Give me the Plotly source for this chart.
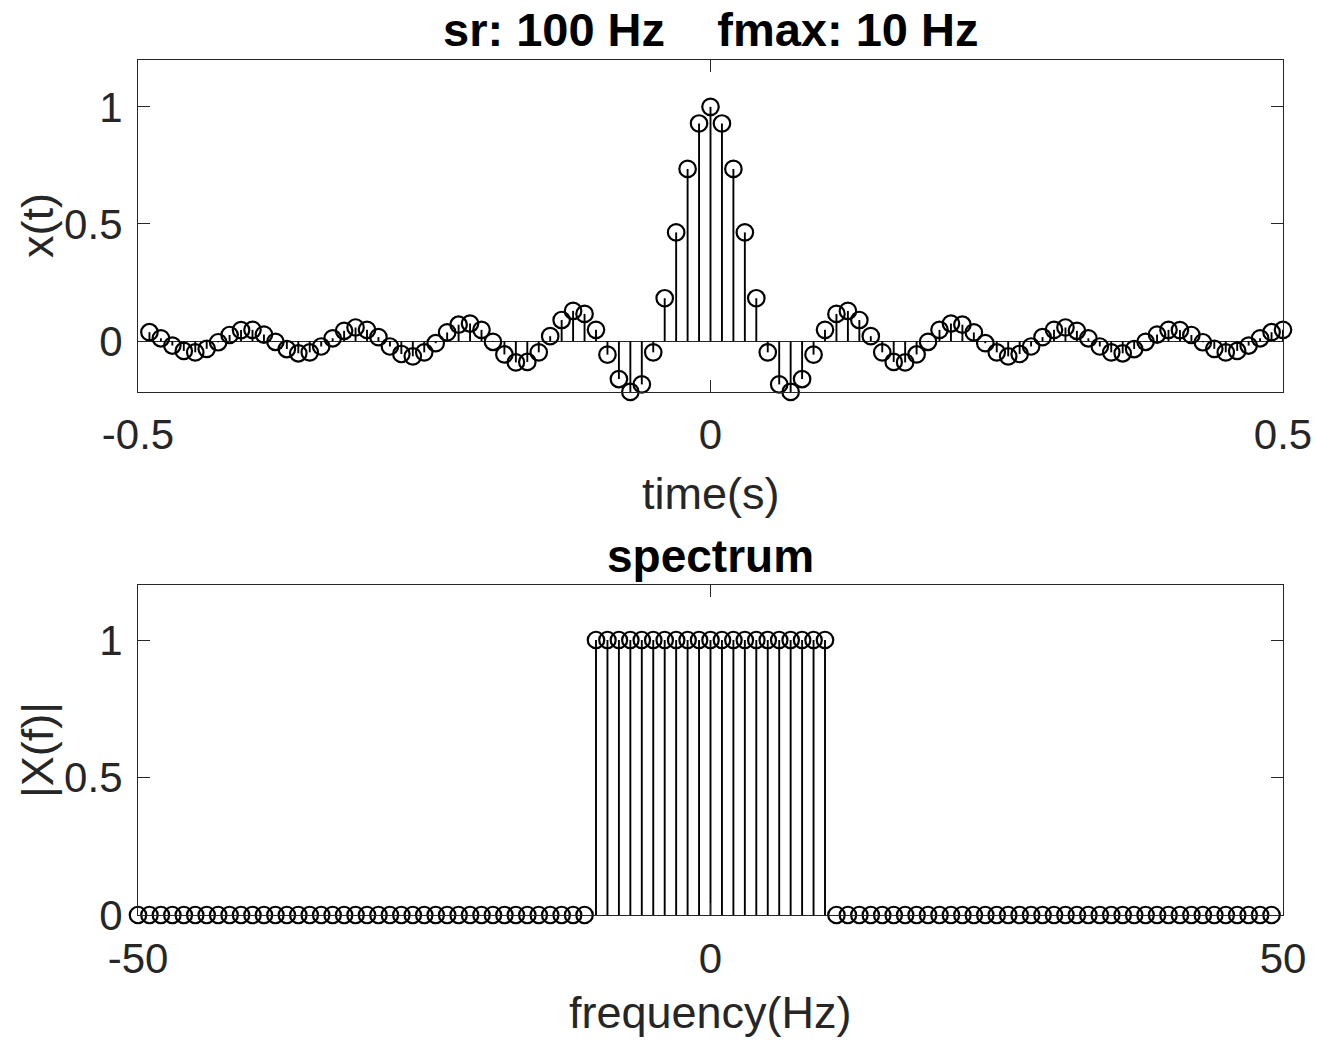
import plotly.graph_objects as go

# ---------------- data ----------------
time_s = [-0.49, -0.48, -0.47, -0.46, -0.45, -0.44, -0.43, -0.42, -0.41, -0.40,
          -0.39, -0.38, -0.37, -0.36, -0.35, -0.34, -0.33, -0.32, -0.31, -0.30,
          -0.29, -0.28, -0.27, -0.26, -0.25, -0.24, -0.23, -0.22, -0.21, -0.20,
          -0.19, -0.18, -0.17, -0.16, -0.15, -0.14, -0.13, -0.12, -0.11, -0.10,
          -0.09, -0.08, -0.07, -0.06, -0.05, -0.04, -0.03, -0.02, -0.01, 0.00,
          0.01, 0.02, 0.03, 0.04, 0.05, 0.06, 0.07, 0.08, 0.09, 0.10,
          0.11, 0.12, 0.13, 0.14, 0.15, 0.16, 0.17, 0.18, 0.19, 0.20,
          0.21, 0.22, 0.23, 0.24, 0.25, 0.26, 0.27, 0.28, 0.29, 0.30,
          0.31, 0.32, 0.33, 0.34, 0.35, 0.36, 0.37, 0.38, 0.39, 0.40,
          0.41, 0.42, 0.43, 0.44, 0.45, 0.46, 0.47, 0.48, 0.49, 0.50]

x_t = [0.038, 0.012, -0.019, -0.042, -0.048, -0.033, -0.005, 0.026, 0.047, 0.048,
       0.028, -0.003, -0.034, -0.052, -0.048, -0.023, 0.012, 0.044, 0.058, 0.048,
       0.017, -0.023, -0.055, -0.065, -0.048, -0.009, 0.037, 0.070, 0.075, 0.048,
       -0.003, -0.057, -0.091, -0.089, -0.048, 0.021, 0.090, 0.129, 0.116, 0.048,
       -0.058, -0.162, -0.217, -0.185, -0.048, 0.183, 0.464, 0.735, 0.929, 1.000,
       0.929, 0.735, 0.464, 0.183, -0.048, -0.185, -0.217, -0.162, -0.058, 0.048,
       0.116, 0.129, 0.090, 0.021, -0.048, -0.089, -0.091, -0.057, -0.003, 0.048,
       0.075, 0.070, 0.037, -0.009, -0.048, -0.065, -0.055, -0.023, 0.017, 0.048,
       0.058, 0.044, 0.012, -0.023, -0.048, -0.052, -0.034, -0.003, 0.028, 0.048,
       0.047, 0.026, -0.005, -0.033, -0.048, -0.042, -0.019, 0.012, 0.038, 0.048]

freq_hz = [-50, -49, -48, -47, -46, -45, -44, -43, -42, -41,
           -40, -39, -38, -37, -36, -35, -34, -33, -32, -31,
           -30, -29, -28, -27, -26, -25, -24, -23, -22, -21,
           -20, -19, -18, -17, -16, -15, -14, -13, -12, -11,
           -10, -9, -8, -7, -6, -5, -4, -3, -2, -1,
           0, 1, 2, 3, 4, 5, 6, 7, 8, 9,
           10, 11, 12, 13, 14, 15, 16, 17, 18, 19,
           20, 21, 22, 23, 24, 25, 26, 27, 28, 29,
           30, 31, 32, 33, 34, 35, 36, 37, 38, 39,
           40, 41, 42, 43, 44, 45, 46, 47, 48, 49]

X_f = [0, 0, 0, 0, 0, 0, 0, 0, 0, 0,
       0, 0, 0, 0, 0, 0, 0, 0, 0, 0,
       0, 0, 0, 0, 0, 0, 0, 0, 0, 0,
       0, 0, 0, 0, 0, 0, 0, 0, 0, 0,
       1, 1, 1, 1, 1, 1, 1, 1, 1, 1,
       1, 1, 1, 1, 1, 1, 1, 1, 1, 1,
       1, 0, 0, 0, 0, 0, 0, 0, 0, 0,
       0, 0, 0, 0, 0, 0, 0, 0, 0, 0,
       0, 0, 0, 0, 0, 0, 0, 0, 0, 0,
       0, 0, 0, 0, 0, 0, 0, 0, 0, 0]

time_ticks = [-0.5, 0, 0.5]
time_tick_text = ["-0.5", "0", "0.5"]
freq_ticks = [-50, 0, 50]
freq_tick_text = ["-50", "0", "50"]
amp_ticks = [0, 0.5, 1]
amp_tick_text = ["0", "0.5", "1"]

title_top = "sr: 100 Hz\u00a0\u00a0\u00a0\u00a0fmax: 10 Hz"
title_bottom = "spectrum"

# ---------------- figure ----------------
FONT = "Liberation Sans, Arial, Helvetica, sans-serif"
AX = "#262626"
W, H = 1318, 1041
ML, MR, MT, MB = 138, 35, 60, 126
PW, PH = W - ML - MR, H - MT - MB


def py(pix):
    return (H - MB - pix) / PH


def px(pix):
    return (pix - ML) / PW


def stems(xs, ys):
    sx, sy = [], []
    for a, b in zip(xs, ys):
        sx += [a, a, None]
        sy += [0, b, None]
    return sx, sy


fig = go.Figure()
for xs, ys, xa, ya in [(time_s, x_t, "x", "y"), (freq_hz, X_f, "x2", "y2")]:
    sx, sy = stems(xs, ys)
    fig.add_trace(go.Scatter(x=sx, y=sy, mode="lines", xaxis=xa, yaxis=ya,
                             line=dict(color="black", width=1.9),
                             hoverinfo="skip", showlegend=False))
    fig.add_trace(go.Scatter(x=xs, y=ys, mode="markers", xaxis=xa, yaxis=ya,
                             marker=dict(symbol="circle-open", size=16.5, color="black",
                                         line=dict(width=2.2, color="black")),
                             cliponaxis=False, showlegend=False))

axis_common = dict(showline=True, linecolor=AX, linewidth=1.2, mirror="ticks",
                   ticks="inside", ticklen=12, tickwidth=1.2, tickcolor=AX,
                   showgrid=False, automargin=False,
                   tickfont=dict(family=FONT, size=42, color=AX))

fig.update_layout(
    width=W, height=H,
    margin=dict(l=ML, r=MR, t=MT, b=MB, autoexpand=False),
    paper_bgcolor="white", plot_bgcolor="white",
    font=dict(family=FONT, color=AX),
    xaxis=dict(domain=[0, 1], anchor="y", range=[-0.5, 0.5],
               tickvals=time_ticks, ticktext=time_tick_text, zeroline=False,
               ticklabelstandoff=5, **axis_common),
    yaxis=dict(domain=[py(392), 1], anchor="x", range=[-0.2173, 1.2],
               tickvals=amp_ticks, ticktext=amp_tick_text,
               zeroline=True, zerolinecolor=AX, zerolinewidth=1.2,
               ticklabelstandoff=6, **axis_common),
    xaxis2=dict(domain=[0, 1], anchor="y2", range=[-50, 50],
                tickvals=freq_ticks, ticktext=freq_tick_text, zeroline=False,
                ticklabelstandoff=6, **axis_common),
    yaxis2=dict(domain=[0, py(585)], anchor="x2", range=[0, 1.2],
                tickvals=amp_ticks, ticktext=amp_tick_text,
                zeroline=True, zerolinecolor=AX, zerolinewidth=1.2,
                ticklabelstandoff=6, **axis_common),
)

ann = [
    dict(text="<b>" + title_top + "</b>", x=0.5, y=py(29), size=47, color="black", angle=0),
    dict(text="<b>" + title_bottom + "</b>", x=0.5, y=py(556), size=46, color="black", angle=0),
    dict(text="time(s)", x=0.5, y=py(493), size=45, color=AX, angle=0),
    dict(text="frequency(Hz)", x=0.5, y=py(1012), size=45, color=AX, angle=0),
    dict(text="x(t)", x=px(37), y=py(226), size=45, color=AX, angle=-90),
    dict(text="|X(f)|", x=px(37), y=py(750), size=45, color=AX, angle=-90),
]
for a in ann:
    fig.add_annotation(text=a["text"], x=a["x"], y=a["y"], xref="paper", yref="paper",
                       xanchor="center", yanchor="middle", showarrow=False,
                       textangle=a["angle"],
                       font=dict(family=FONT, size=a["size"], color=a["color"]))

fig.write_html("out.html")
